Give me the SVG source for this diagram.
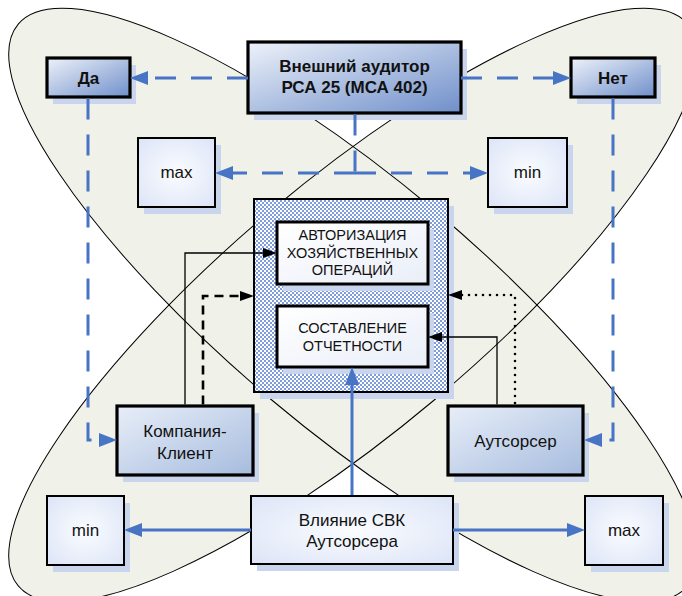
<svg xmlns="http://www.w3.org/2000/svg" width="682" height="596" viewBox="0 0 682 596">
<style>
.ell{fill:#F0F1E9;stroke:none}
.ellS{fill:none;stroke:#000;stroke-width:1}
.sh{fill:#C8D5EC}
.dk{fill:url(#gDark);stroke:#000;stroke-width:3.2}
.md{fill:url(#gMid);stroke:#000;stroke-width:3.2}
.lt{fill:url(#gLight);stroke:#000;stroke-width:2}
.inr{fill:url(#gInner);stroke:#000;stroke-width:3}
.t{font-family:"Liberation Sans",Arial,sans-serif;font-size:17px;fill:#111;text-anchor:middle}
.b{font-weight:bold}
.s{font-size:14.5px}
.bd{fill:none;stroke:#4774C4;stroke-width:3;stroke-dasharray:21,15}
.bs{fill:none;stroke:#4774C4;stroke-width:3}
.k{fill:none;stroke:#000;stroke-width:1.3}
.kd{fill:none;stroke:#000;stroke-width:2.6;stroke-dasharray:9,6}
.kp{fill:none;stroke:#000;stroke-width:2.6;stroke-dasharray:0,7;stroke-linecap:round}
</style>
<defs>
<linearGradient id="gDark" x1="0" y1="0" x2="1" y2="1">
<stop offset="0" stop-color="#EEF2FA"/>
<stop offset="1" stop-color="#6F8FCA"/>
</linearGradient>
<linearGradient id="gMid" x1="0" y1="0" x2="1" y2="1">
<stop offset="0" stop-color="#E8EEF8"/>
<stop offset="1" stop-color="#A6BCDE"/>
</linearGradient>
<radialGradient id="gLight" cx="0.5" cy="0.5" r="0.7">
<stop offset="0" stop-color="#FAFCFF"/>
<stop offset="1" stop-color="#DCE4F6"/>
</radialGradient>
<linearGradient id="gInner" x1="0" y1="0" x2="1" y2="1">
<stop offset="0" stop-color="#FFFFFF"/>
<stop offset="1" stop-color="#E9EEF8"/>
</linearGradient>
<pattern id="hatch" width="4" height="4" patternUnits="userSpaceOnUse">
<rect width="4" height="4" fill="#FFFFFF"/>
<rect width="2" height="2" fill="#7F9DDD"/>
<rect x="2" y="2" width="2" height="2" fill="#7F9DDD"/>
</pattern>
<marker id="aB" markerUnits="userSpaceOnUse" markerWidth="18" markerHeight="14" refX="12" refY="7" orient="auto">
<path d="M0,0 L18,7 L0,14 z" fill="#4774C4"/>
</marker>
<marker id="aK" markerUnits="userSpaceOnUse" markerWidth="14" markerHeight="10" refX="10" refY="5" orient="auto">
<path d="M0,0 L14,5 L0,10 z" fill="#000"/>
</marker>
</defs>

<g id="background">
<ellipse class="ell" cx="353" cy="305" rx="437" ry="125" transform="rotate(40 353 305)"/>
<ellipse class="ell" cx="353" cy="305" rx="437" ry="125" transform="rotate(-40 353 305)"/>
<ellipse class="ellS" cx="353" cy="305" rx="437" ry="125" transform="rotate(40 353 305)"/>
<ellipse class="ellS" cx="353" cy="305" rx="437" ry="125" transform="rotate(-40 353 305)"/>
</g>

<g id="auditor">
<rect class="sh" x="254" y="49" width="213" height="71"/>
<rect class="dk" x="248" y="42" width="213" height="71"/>
<text class="t b" x="354.5" y="72">Внешний аудитор</text>
<text class="t b" x="354.5" y="93">РСА 25 (МСА 402)</text>
</g>
<g id="da">
<rect class="sh" x="53" y="65" width="83" height="39"/>
<rect class="dk" x="47" y="58" width="83" height="39"/>
<text class="t b" x="88.5" y="83.5">Да</text>
</g>
<g id="net">
<rect class="sh" x="577" y="65" width="84" height="39"/>
<rect class="dk" x="571" y="58" width="84" height="39"/>
<text class="t b" x="613" y="83.5">Нет</text>
</g>
<g id="max-top">
<rect class="sh" x="144" y="145" width="77" height="69"/>
<rect class="lt" x="138" y="138" width="77" height="69"/>
<text class="t" x="176.5" y="178">max</text>
</g>
<g id="min-top">
<rect class="sh" x="494" y="145" width="79" height="69"/>
<rect class="lt" x="488" y="138" width="79" height="69"/>
<text class="t" x="527.5" y="178">min</text>
</g>
<g id="container">
<rect class="sh" x="260" y="206" width="194" height="193"/>
<rect x="254" y="199" width="194" height="193" fill="url(#hatch)" stroke="#000" stroke-width="2"/>
</g>
<g id="authorization">
<rect class="sh" x="283" y="229" width="151" height="62"/>
<rect class="inr" x="277" y="222" width="151" height="62"/>
<text class="t s" x="352.5" y="240">АВТОРИЗАЦИЯ</text>
<text class="t s" x="352.5" y="257.5">ХОЗЯЙСТВЕННЫХ</text>
<text class="t s" x="352.5" y="275">ОПЕРАЦИЙ</text>
</g>
<g id="reporting">
<rect class="sh" x="283" y="313" width="151" height="61"/>
<rect class="inr" x="277" y="306" width="151" height="61"/>
<text class="t s" x="352.5" y="332.5">СОСТАВЛЕНИЕ</text>
<text class="t s" x="352.5" y="351">ОТЧЕТНОСТИ</text>
</g>
<g id="client">
<rect class="sh" x="123" y="413" width="136" height="69"/>
<rect class="md" x="117" y="406" width="136" height="69"/>
<text class="t" x="185" y="437">Компания-</text>
<text class="t" x="185" y="459">Клиент</text>
</g>
<g id="outsourcer">
<rect class="sh" x="454" y="413" width="135" height="69"/>
<rect class="md" x="448" y="406" width="135" height="69"/>
<text class="t" x="515.5" y="447">Аутсорсер</text>
</g>
<g id="influence">
<rect class="sh" x="257" y="503" width="202" height="68"/>
<rect class="lt" x="251" y="496" width="202" height="68"/>
<text class="t" x="352" y="525.5">Влияние СВК</text>
<text class="t" x="352" y="547">Аутсорсера</text>
</g>
<g id="min-bottom">
<rect class="sh" x="53" y="503" width="77" height="69"/>
<rect class="lt" x="47" y="496" width="77" height="69"/>
<text class="t" x="85.5" y="536">min</text>
</g>
<g id="max-bottom">
<rect class="sh" x="591" y="503" width="78" height="69"/>
<rect class="lt" x="585" y="496" width="78" height="69"/>
<text class="t" x="624" y="536">max</text>
</g>

<g id="connectors">
<path class="bd" d="M248,78 H136" marker-end="url(#aB)"/>
<path class="bd" d="M461,78 H565" marker-end="url(#aB)"/>
<path class="bd" d="M355,114.5 V173"/>
<path class="bd" d="M355,173 H221" marker-end="url(#aB)"/>
<path class="bd" d="M355,173 H482" marker-end="url(#aB)"/>
<path class="bd" d="M88,98.5 V440 H111" marker-end="url(#aB)"/>
<path class="bd" d="M613,98.5 V440 H590" marker-end="url(#aB)"/>
<path class="bs" d="M352,495 V373" marker-end="url(#aB)"/>
<path class="bs" d="M251,530 H130" marker-end="url(#aB)"/>
<path class="bs" d="M453,530 H579" marker-end="url(#aB)"/>
<path class="k" d="M185,404.5 V253 H273" marker-end="url(#aK)"/>
<path class="kd" d="M203,404.5 V296 H250" marker-end="url(#aK)"/>
<path class="k" d="M497,404.5 V337 H432" marker-end="url(#aK)"/>
<path class="kp" d="M515,403 V295 H452" marker-end="url(#aK)"/>
</g>
</svg>
